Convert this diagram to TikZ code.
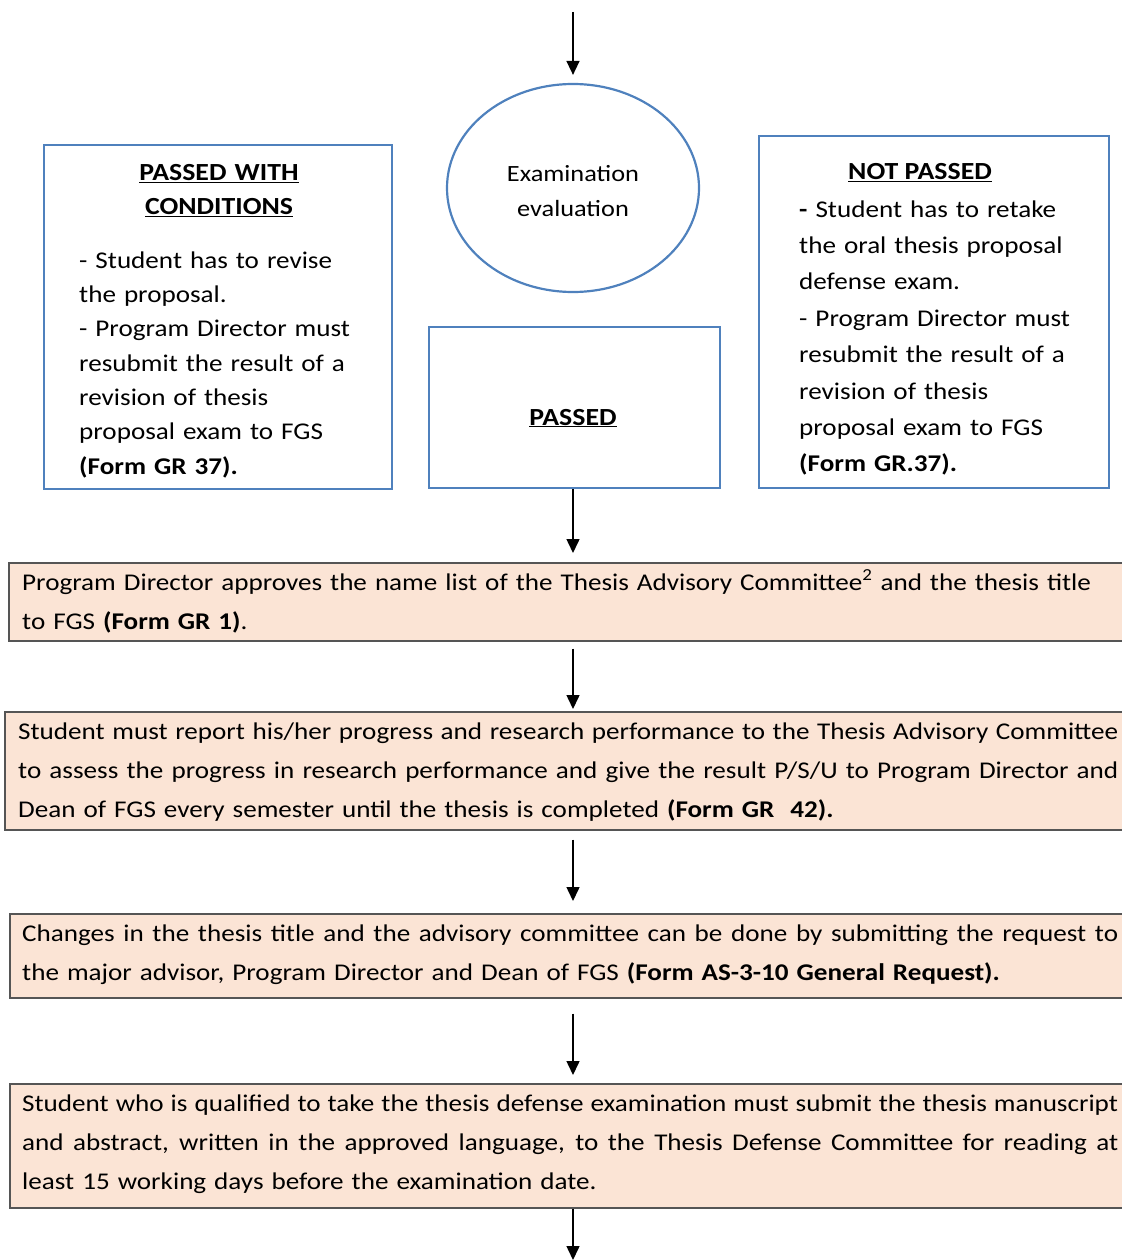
\documentclass[tikz,border=0pt]{standalone}
\usepackage{fontspec}
\setmainfont{Carlito}[FakeStretch=1.13]
\usetikzlibrary{arrows.meta,shapes.geometric}
\definecolor{boxblue}{HTML}{4F81BD}
\definecolor{peachfill}{HTML}{FBE4D5}
\definecolor{peachline}{HTML}{555555}
\newcommand\jline[2]{\makebox[#1][s]{\spaceskip=\fontdimen2\font plus 1fil minus .6\fontdimen2\font\relax #2}}
\tikzset{
  bluebox/.style={draw=boxblue, line width=2.2pt, fill=white, inner sep=0pt, anchor=north west},
  peachbox/.style={draw=peachline, line width=1.6pt, fill=peachfill, inner sep=0pt, anchor=north west},
  flowarrow/.style={line width=1.5pt, -{Triangle[length=14pt,width=13pt]}},
  smalltext/.style={font=\fontsize{24}{34.35}\selectfont, inner sep=0pt, anchor=base west},
  bigtext/.style={font=\fontsize{24}{39}\selectfont, inner sep=0pt, anchor=base west, text width=1150pt},
  titletext/.style={font=\fontsize{24.6}{34}\selectfont\bfseries, inner sep=0pt, anchor=base},
}
\begin{document}
\begin{tikzpicture}[x=1pt,y=-1pt]
\useasboundingbox (0,0) rectangle (1121,1260);
\coordinate (axis) at (573,0);
\coordinate (start) at (573,12);
\coordinate (finish) at (573,1260);

% ellipse
\node[ellipse, draw=boxblue, line width=2.2pt, minimum width=252pt, minimum height=208pt, inner sep=0pt] (eval) at (573,188) {};
\node[font=\fontsize{23.3}{35}\selectfont, text width=220pt, inner sep=0pt, anchor=base] (evaltext) at (573,182) {\centering Examination\\evaluation\par};

% left box
\node[bluebox, minimum width=348pt, minimum height=344pt] (pwc) at (43,144) {};
\node[titletext, text width=300pt] (pwctitle) at (219,181) {\centering\underline{PASSED WITH}\\\underline{CONDITIONS}\par};
\node[smalltext, text width=320pt] (pwcbody) at (79,268) {- Student has to revise\\the proposal.\\- Program Director must\\resubmit the result of a\\revision of thesis\\proposal exam to FGS\\\textbf{(Form GR 37).}};

% middle box
\node[bluebox, minimum width=291pt, minimum height=161pt] (passed) at (428,326) {};
\node[titletext] (passedtext) at (573,425) {\underline{PASSED}};

% right box
\node[bluebox, minimum width=350pt, minimum height=352pt] (np) at (758,135) {};
\node[titletext] (nptitle) at (920,180) {\underline{NOT PASSED}};
\node[smalltext, font=\fontsize{24}{36.4}\selectfont, text width=300pt] (npbody) at (799,217) {\textbf{-} Student has to retake\\the oral thesis proposal\\defense exam.\\- Program Director must\\resubmit the result of a\\revision of thesis\\proposal exam to FGS\\\textbf{(Form GR.37).}};

% peach boxes
\node[peachbox, minimum width=1130pt, minimum height=78pt] (b1) at (8,562) {};
\node[bigtext] (t1) at (22,590) {Program Director approves the name list of the Thesis Advisory Committee\textsuperscript{2} and the thesis title\\to FGS \textbf{(Form GR 1)}.};

\node[peachbox, minimum width=1130pt, minimum height=118pt] (b2) at (4,711) {};
\node[bigtext] (t2) at (18,739) {\jline{1100pt}{Student must report his/her progress and research performance to the Thesis Advisory Committee}\\\jline{1100pt}{to assess the progress in research performance and give the result P/S/U to Program Director and}\\Dean of FGS every semester until the thesis is completed \textbf{(Form GR\ \ 42).}};

\node[peachbox, minimum width=1130pt, minimum height=84pt] (b3) at (9,913) {};
\node[bigtext] (t3) at (22,941) {\jline{1096pt}{Changes in the thesis title and the advisory committee can be done by submitting the request to}\\the major advisor, Program Director and Dean of FGS \textbf{(Form AS-3-10 General Request).}};

\node[peachbox, minimum width=1130pt, minimum height=124pt] (b4) at (9,1083) {};
\node[bigtext] (t4) at (22,1111) {\jline{1096pt}{Student who is qualified to take the thesis defense examination must submit the thesis manuscript}\\\jline{1096pt}{and abstract, written in the approved language, to the Thesis Defense Committee for reading at}\\least 15 working days before the examination date.};

% arrows
\draw[flowarrow, shorten >=8pt] (start) -- (eval.north);
\draw[flowarrow, shorten >=9pt] (axis |- passed.south) -- (axis |- b1.north);
\draw[flowarrow, shorten <=7pt, shorten >=2pt] (axis |- b1.south) -- (axis |- b2.north);
\draw[flowarrow, shorten <=9pt, shorten >=12pt] (axis |- b2.south) -- (axis |- b3.north);
\draw[flowarrow, shorten <=15pt, shorten >=8pt] (axis |- b3.south) -- (axis |- b4.north);
\draw[flowarrow] (axis |- b4.south) -- (finish);
\end{tikzpicture}
\end{document}
